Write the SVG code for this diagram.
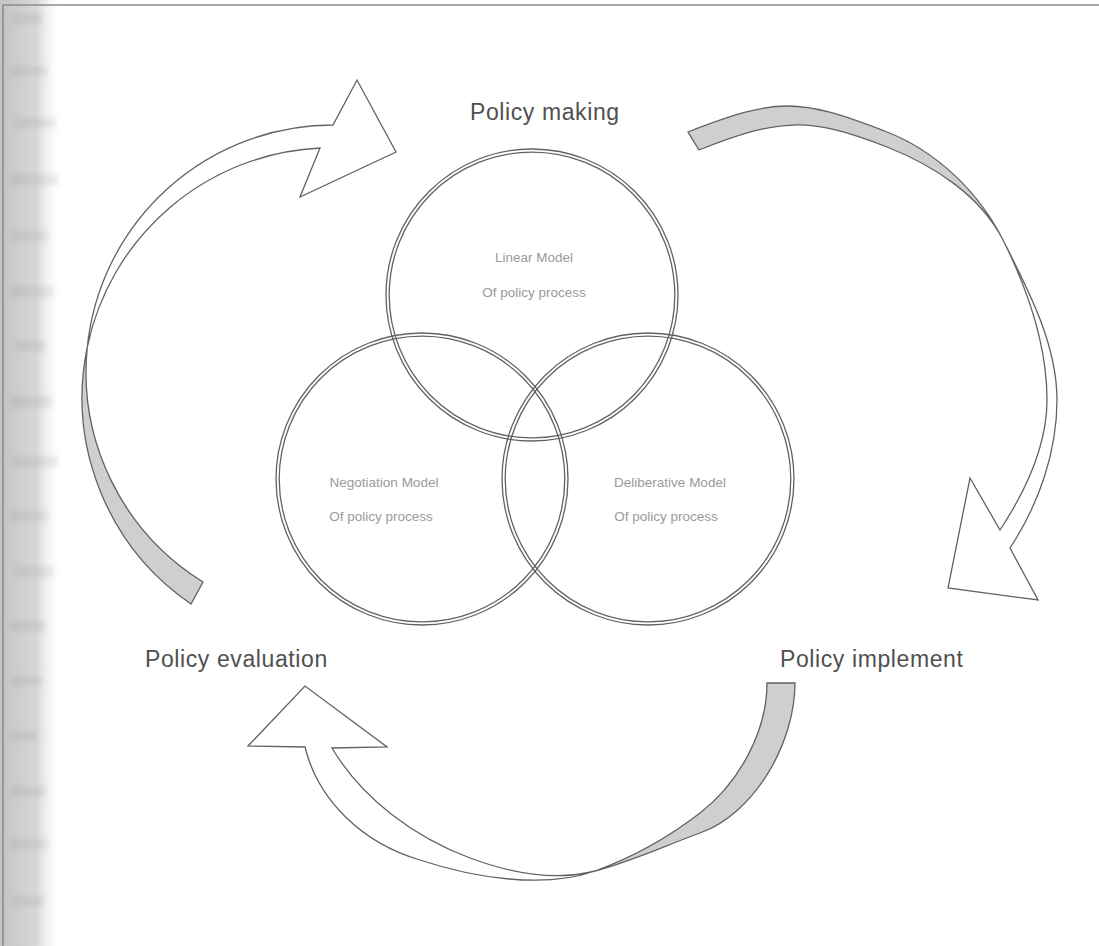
<svg xmlns="http://www.w3.org/2000/svg" width="1099" height="946" viewBox="0 0 1099 946">
  <defs>
    <linearGradient id="edgeShade" x1="0" y1="0" x2="1" y2="0">
      <stop offset="0" stop-color="#c4c4c4"/>
      <stop offset="0.6" stop-color="#d8d8d8"/>
      <stop offset="1" stop-color="#ffffff" stop-opacity="0"/>
    </linearGradient>
    <filter id="soft" x="-30%" y="-100%" width="160%" height="300%">
      <feGaussianBlur stdDeviation="2.4"/>
    </filter>
    <style>
      .ring { fill: none; stroke: #626262; stroke-width: 1.3; }
      .band { fill: #ffffff; stroke: #626262; stroke-width: 1.3; stroke-linejoin: miter; }
      .under { fill: #cfcfcf; stroke: #626262; stroke-width: 1.3; }
      .stage { font-family: "Liberation Sans", Arial, sans-serif; font-size: 23px; fill: #505050; letter-spacing: 0.6px; }
      .model { font-family: "Liberation Sans", Arial, sans-serif; font-size: 13.5px; fill: #9a9a9a; text-anchor: middle; }
      .mark { fill: #8a8a8a; opacity: 0.16; }
    </style>
  </defs>

  <!-- page with shaded binding edge -->
  <rect x="0" y="0" width="1099" height="946" fill="#ffffff"/>
  <rect x="0" y="0" width="62" height="946" fill="url(#edgeShade)"/>
  <g id="edge-marks" filter="url(#soft)">
    <rect class="mark" x="12" y="14" width="30" height="10"/>
    <rect class="mark" x="10" y="66" width="38" height="10"/>
    <rect class="mark" x="14" y="118" width="42" height="10"/>
    <rect class="mark" x="10" y="174" width="48" height="11"/>
    <rect class="mark" x="12" y="231" width="36" height="10"/>
    <rect class="mark" x="10" y="286" width="44" height="11"/>
    <rect class="mark" x="14" y="341" width="32" height="10"/>
    <rect class="mark" x="10" y="396" width="42" height="12"/>
    <rect class="mark" x="12" y="456" width="46" height="11"/>
    <rect class="mark" x="10" y="511" width="38" height="10"/>
    <rect class="mark" x="14" y="566" width="40" height="11"/>
    <rect class="mark" x="10" y="621" width="36" height="10"/>
    <rect class="mark" x="12" y="676" width="30" height="10"/>
    <rect class="mark" x="10" y="731" width="28" height="10"/>
    <rect class="mark" x="12" y="786" width="34" height="11"/>
    <rect class="mark" x="10" y="839" width="38" height="10"/>
    <rect class="mark" x="12" y="896" width="32" height="10"/>
  </g>
  <path d="M3,946 V5 H1099" fill="none" stroke="#8c8c8c" stroke-width="1.6"/>

  <!-- cycle arrows -->
  <g id="connectors">
    <!-- evaluation -> making (left) -->
    <g id="arrow-evaluation-making">
      <path class="under" d="M87.3,347 A250,250 0 0 0 191,604 L203,582 A247,247 0 0 1 87.3,347 Z"/>
      <path class="band" d="M87.3,347 A247,247 0 0 1 333,125 L357,80 L396,152 L300,197 L320,148 A250,250 0 0 0 87.3,347 Z"/>
    </g>
    <!-- making -> implement (right) -->
    <g id="arrow-making-implement">
      <path class="under" d="M688,132 C777.5,97.3 797.5,97.3 887,132 C936.4,151.1 979.3,192.6 1003,240 C980.4,195.3 933.5,165.4 887,147 C808,115.7 778,118.7 699,150 Z"/>
      <path class="band" d="M1003,240 C1027.6,289.2 1047,345 1047,400 C1047,446 1025.3,491.6 1000,530 L970,478 L948,588 L1038,600 L1010,548 C1038.6,504.6 1057,452 1057,400 C1057,344 1028.2,289.8 1003,240 Z"/>
    </g>
    <!-- implement -> evaluation (bottom) -->
    <g id="arrow-implement-evaluation">
      <path class="under" d="M767,683 C767,732 738.7,783.1 700,813 C668.4,837.4 632.6,857.4 595,871 C630.9,861.75 665.2,845.6 700,833 C755.5,813 795,742 795,683 Z"/>
      <path class="band" d="M595,871 C545,889 474,878 420,860 C362,843 318,800 305,747 L248,746 L305,686 L387,747 L332,748 C362,798.7 414.5,837.3 470,858 C509.5,872.7 554.3,881.5 595,871 Z"/>
    </g>
  </g>

  <!-- model circles -->
  <g id="node-linear">
    <circle class="ring" cx="532" cy="295" r="146"/>
    <circle class="ring" cx="532" cy="295" r="142.8"/>
    <text class="model" x="534" y="262">Linear Model</text>
    <text class="model" x="534" y="297">Of policy process</text>
  </g>
  <g id="node-negotiation">
    <circle class="ring" cx="422" cy="479" r="146"/>
    <circle class="ring" cx="422" cy="479" r="142.8"/>
    <text class="model" x="384" y="487">Negotiation Model</text>
    <text class="model" x="381" y="521">Of policy process</text>
  </g>
  <g id="node-deliberative">
    <circle class="ring" cx="648" cy="479" r="146"/>
    <circle class="ring" cx="648" cy="479" r="142.8"/>
    <text class="model" x="670" y="487">Deliberative Model</text>
    <text class="model" x="666" y="521">Of policy process</text>
  </g>

  <!-- stage labels -->
  <g id="node-making">
    <text class="stage" x="470" y="119.5">Policy making</text>
  </g>
  <g id="node-evaluation">
    <text class="stage" x="145" y="667">Policy evaluation</text>
  </g>
  <g id="node-implement">
    <text class="stage" x="780" y="667">Policy implement</text>
  </g>
</svg>
